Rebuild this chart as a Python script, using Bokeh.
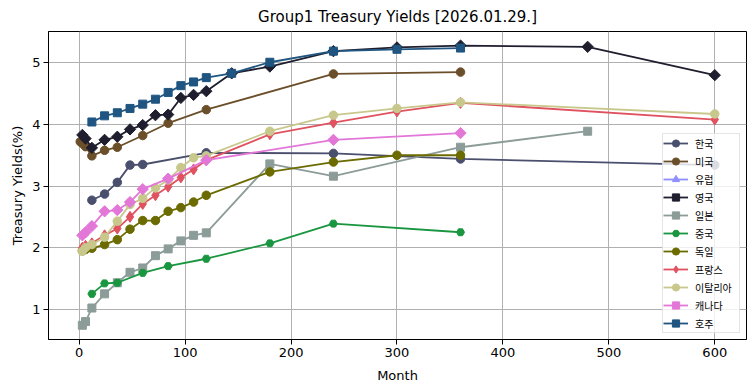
import numpy as np
from bokeh.plotting import figure
from bokeh.models import Range1d, Legend, LegendItem, ColumnDataSource, FixedTicker
from bokeh.embed import file_html
from bokeh.resources import INLINE

# ---------------- data ----------------
title_text = "Group1 Treasury Yields [2026.01.29.]"
x_ticks = [0, 100, 200, 300, 400, 500, 600]
y_ticks = [1, 2, 3, 4, 5]

kr_m = [12, 24, 36, 48, 60, 120, 240, 360, 600]
kr_y = [2.77, 2.87, 3.06, 3.34, 3.35, 3.54, 3.53, 3.44, 3.34]

us_m = [1, 3, 6, 12, 24, 36, 60, 84, 120, 240, 360]
us_y = [3.72, 3.69, 3.64, 3.49, 3.58, 3.63, 3.82, 4.02, 4.24, 4.82, 4.85]

eu_m = []
eu_y = []

uk_m = [3, 6, 12, 24, 36, 48, 60, 72, 84, 96, 108, 120, 144, 180, 240, 300, 360, 480, 600]
uk_y = [3.83, 3.77, 3.62, 3.75, 3.80, 3.92, 3.99, 4.15, 4.16, 4.43, 4.48, 4.54, 4.83, 4.94, 5.19, 5.25, 5.28, 5.26, 4.80]

jp_m = [3, 6, 12, 24, 36, 48, 60, 72, 84, 96, 108, 120, 180, 240, 360, 480]
jp_y = [0.74, 0.80, 1.02, 1.25, 1.43, 1.60, 1.67, 1.87, 1.98, 2.11, 2.20, 2.24, 3.36, 3.16, 3.63, 3.89]

cn_m = [12, 24, 36, 60, 84, 120, 180, 240, 360]
cn_y = [1.25, 1.42, 1.43, 1.59, 1.70, 1.82, 2.07, 2.39, 2.25]

de_m = [3, 6, 12, 24, 36, 48, 60, 72, 84, 96, 108, 120, 180, 240, 300, 360]
de_y = [1.95, 1.97, 1.99, 2.05, 2.13, 2.30, 2.44, 2.44, 2.59, 2.65, 2.74, 2.85, 3.23, 3.39, 3.50, 3.50]

fr_m = [3, 6, 12, 24, 36, 48, 60, 72, 84, 96, 108, 120, 180, 240, 300, 360, 600]
fr_y = [2.00, 2.03, 2.07, 2.20, 2.31, 2.50, 2.71, 2.85, 2.99, 3.14, 3.27, 3.42, 3.84, 4.03, 4.21, 4.35, 4.08]

it_m = [3, 6, 12, 24, 36, 48, 60, 72, 84, 96, 108, 120, 180, 240, 300, 360, 600]
it_y = [1.94, 2.00, 2.05, 2.17, 2.43, 2.70, 2.80, 2.97, 3.10, 3.30, 3.46, 3.49, 3.89, 4.15, 4.26, 4.36, 4.17]

ca_m = [3, 6, 12, 24, 36, 48, 60, 84, 120, 240, 360]
ca_y = [2.20, 2.25, 2.35, 2.59, 2.61, 2.74, 2.95, 3.12, 3.42, 3.75, 3.86]

au_m = [12, 24, 36, 48, 60, 72, 84, 96, 108, 120, 144, 180, 240, 300, 360]
au_y = [4.04, 4.14, 4.19, 4.26, 4.33, 4.41, 4.52, 4.63, 4.69, 4.76, 4.83, 5.01, 5.19, 5.22, 5.24]

names = ["한국", "미국", "유럽", "영국", "일본", "중국", "독일", "프랑스", "이탈리아", "캐나다", "호주"]
months = [kr_m, us_m, eu_m, uk_m, jp_m, cn_m, de_m, fr_m, it_m, ca_m, au_m]
yields = [kr_y, us_y, eu_y, uk_y, jp_y, cn_y, de_y, fr_y, it_y, ca_y, au_y]

# ---------------- styles ----------------
colors = ["#4a4f6e", "#6b4f2a", "#8f8fff", "#1e1e2e", "#8c9c98", "#1a9641",
          "#6b6b00", "#e05260", "#c8c88c", "#e377d8", "#1f5580"]
# (marker, size, angle)
markers = [("circle", 8.5, 0), ("circle", 8.5, 0), ("triangle", 9, 0),
           ("square", 8, np.pi / 4), ("square", 8, 0), ("hex", 8, 0),
           ("circle", 8.5, 0), ("diamond", 11, 0), ("circle", 8.5, 0),
           ("square", 8, np.pi / 4), ("square", 8, 0)]

FONT = "DejaVu Sans"

p = figure(frame_width=698, frame_height=308,
           min_border_left=48, min_border_right=9, min_border_top=31, min_border_bottom=52,
           x_range=Range1d(-28.95, 629.95), y_range=Range1d(0.509, 5.509),
           output_backend="svg", toolbar_location=None, title=title_text)

p.title.text_font = FONT
p.title.text_font_size = "15px"
p.title.text_font_style = "normal"
p.title.text_color = "black"
p.title.align = "center"
p.title.standoff = 11

p.background_fill_color = "white"
p.border_fill_color = "white"
p.outline_line_color = "black"
p.outline_line_width = 1
p.outline_line_alpha = 1

p.xaxis.ticker = FixedTicker(ticks=x_ticks)
p.yaxis.ticker = FixedTicker(ticks=y_ticks)
p.xaxis.axis_label = "Month"
p.yaxis.axis_label = "Treasury Yields(%)"
for ax in (p.xaxis, p.yaxis):
    ax.axis_label_text_font = FONT
    ax.axis_label_text_font_size = "13px"
    ax.axis_label_text_font_style = "normal"
    ax.axis_label_text_color = "black"
    ax.major_label_text_font = FONT
    ax.major_label_text_font_size = "13px"
    ax.major_label_text_color = "black"
    ax.major_tick_out = 5
    ax.major_tick_in = 0
    ax.minor_tick_out = 0
    ax.minor_tick_in = 0
    ax.major_tick_line_color = "black"
    ax.axis_line_color = "black"
p.xaxis.major_label_standoff = 3
p.xaxis.axis_label_standoff = 8
p.yaxis.major_label_standoff = 3
p.yaxis.axis_label_standoff = 4

p.grid.grid_line_color = "#b0b0b0"
p.grid.grid_line_width = 1
p.grid.grid_line_alpha = 1

items = []
for name, xs, ys, col, (mk, sz, ang) in zip(names, months, yields, colors, markers):
    if len(xs) == 0:
        # legend-only series (no visible points in the chart)
        xs, ys = [np.nan], [np.nan]
    src = ColumnDataSource(dict(x=xs, y=ys))
    ln = p.line("x", "y", source=src, line_color=col, line_width=1.8)
    sc = p.scatter("x", "y", source=src, marker=mk, size=sz, angle=ang,
                   fill_color=col, line_color=col)
    items.append(LegendItem(label=name, renderers=[ln, sc]))

legend = Legend(items=items, location="bottom_right")
legend.label_text_font = "Noto Sans CJK KR"
legend.label_text_font_size = "10px"
legend.label_text_color = "black"
legend.glyph_width = 25
legend.glyph_height = 18
legend.label_height = 14
legend.label_width = 44
legend.spacing = 0
legend.padding = 0
legend.margin = 6
legend.label_standoff = 7
legend.border_line_color = "#cccccc"
legend.border_line_width = 1
legend.background_fill_color = "white"
legend.background_fill_alpha = 0.8
p.add_layout(legend)

open("out.html", "w").write(file_html(p, INLINE))
